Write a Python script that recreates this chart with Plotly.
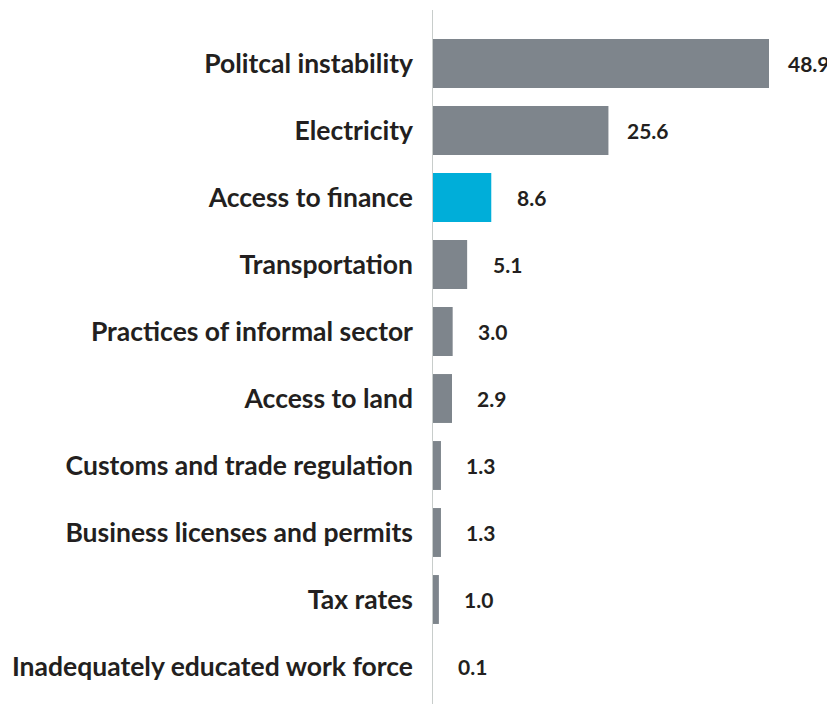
import plotly.graph_objects as go

categories = [
    "Politcal instability",
    "Electricity",
    "Access to finance",
    "Transportation",
    "Practices of informal sector",
    "Access to land",
    "Customs and trade regulation",
    "Business licenses and permits",
    "Tax rates",
    "Inadequately educated work force",
]
values = [48.9, 25.6, 8.6, 5.1, 3.0, 2.9, 1.3, 1.3, 1.0, 0.1]
value_labels = ["48.9", "25.6", "8.6", "5.1", "3.0", "2.9", "1.3", "1.3", "1.0", "0.1"]
highlight = "Access to finance"

GRAY = "#7e858c"
BLUE = "#00aed9"
TEXT = "#231f20"
FONT = "Lato"

colors = [BLUE if c == highlight else GRAY for c in categories]

fig = go.Figure(
    go.Bar(
        x=values,
        y=categories,
        orientation="h",
        marker=dict(color=colors, line=dict(width=0)),
        width=0.73,
        hoverinfo="skip",
    )
)

for c, v, t in zip(categories, values, value_labels):
    fig.add_annotation(
        x=v, y=c, text=f"<b>{t}</b>", showarrow=False,
        xanchor="center", yanchor="middle", xshift=40,
        font=dict(family=FONT, size=21, color=TEXT),
    )

fig.add_shape(
    type="line", xref="x", yref="paper",
    x0=0, x1=0, y0=-0.01, y1=1.03,
    line=dict(color="#c8cdcb", width=2), layer="above",
)

# page has an 8px body margin, so the figure is drawn 8px smaller
W, H = 827, 696
L, R, T, B = 424, 0, 22, 4
px_per_unit = 337 / 48.9
xmax = (W - L - R) / px_per_unit

fig.update_layout(
    width=W, height=H,
    margin=dict(l=L, r=R, t=T, b=B, pad=0),
    paper_bgcolor="white", plot_bgcolor="white",
    showlegend=False,
    xaxis=dict(range=[0, xmax], visible=False, fixedrange=True),
    yaxis=dict(
        type="category",
        categoryorder="array", categoryarray=categories,
        range=[9.5, -0.5],
        showline=False, showgrid=False, zeroline=False,
        ticks="", ticklabelstandoff=18,
        tickfont=dict(family=FONT, size=26.5, color=TEXT, weight="bold"),
    ),
    font=dict(family=FONT),
)

fig.write_html("out.html")
